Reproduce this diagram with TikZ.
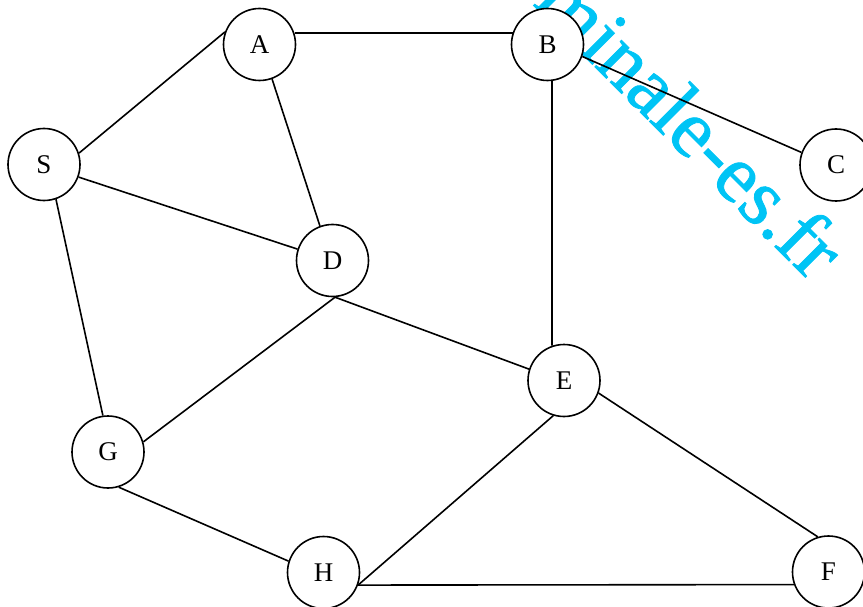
\documentclass[tikz,border=0pt]{standalone}
\usepackage{fontspec}
\setmainfont{Liberation Serif}
\newfontfamily\wmfont[FakeBold=1]{Liberation Serif}
\newfontfamily\lblfont{Liberation Serif}
\definecolor{wmcyan}{RGB}{0,196,245}
\tikzset{
  vertex/.style={circle,draw=black,fill=white,line width=1.6pt,minimum size=72pt,inner sep=0pt,font=\lblfont\fontsize{27pt}{31pt}\selectfont},
  edge/.style={line width=1.6pt}}
\begin{document}
\begin{tikzpicture}[x=1pt,y=-1pt]
\useasboundingbox (0,0) rectangle (863,607);
\clip (0,0) rectangle (863,607);
\node[anchor=base west,rotate=-45,inner sep=0pt,text=wmcyan,font=\wmfont\fontsize{82pt}{90pt}\selectfont] (wm) at (471,-57) {terminale-es.fr};
\node[vertex] (A) at (259.5,44.5) {A};
\node[vertex] (B) at (547.5,44.5) {B};
\node[vertex] (C) at (836,165) {C};
\node[vertex] (S) at (44,164.5) {S};
\node[vertex] (D) at (332.5,260.5) {D};
\node[vertex] (E) at (564,380.5) {E};
\node[vertex] (G) at (108,452) {G};
\node[vertex] (H) at (323.5,572.5) {H};
\node[vertex] (F) at (828.5,572) {F};
\draw[edge] (A.18) -- (B.162);
\draw[edge] (A.160) -- (S.18);
\draw[edge] (A.-70) -- (D.110);
\draw[edge] (S.-20) -- (D.162);
\draw[edge] (S.-71) -- (G.98);
\draw[edge] (D.-86) -- (G.16);
\draw[edge] (D.-86) -- (E.162);
\draw[edge] (B.-83) -- (E.109);
\draw[edge] (B.-19) -- (C.160);
\draw[edge] (E.-20) -- (F.107);
\draw[edge] (E.-107) -- (H.-20);
\draw[edge] (H.-20) -- (F.200);
\draw[edge] (G.-73) -- (H.162);
\end{tikzpicture}
\end{document}
